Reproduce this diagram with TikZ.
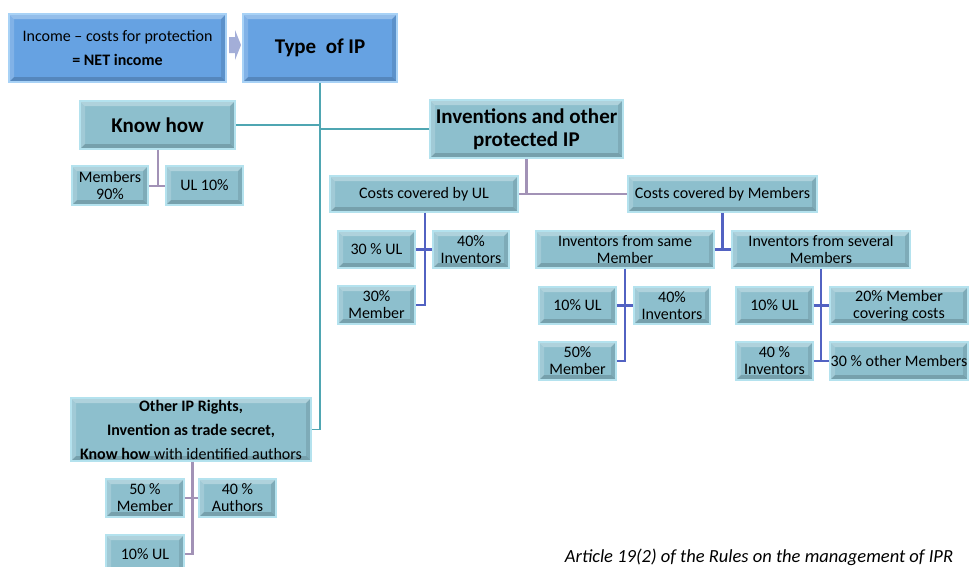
\documentclass[tikz,border=0pt]{standalone}
\usepackage{fontspec}
\setmainfont{Carlito}
\begin{document}
\begin{tikzpicture}[x=1pt,y=-1pt]
\definecolor{tealfill}{HTML}{8DBFCD}
\definecolor{tealedge}{HTML}{B4E2EE}
\definecolor{bluefill}{HTML}{66A2E2}
\definecolor{blueedge}{HTML}{A8D2F6}
\definecolor{tealline}{HTML}{4FA6B2}
\definecolor{purpline}{HTML}{A292B6}
\definecolor{blueline}{HTML}{5262C2}
\definecolor{arrowcol}{HTML}{A3AED8}
\tikzset{
  bevel/.style={path picture={
    \coordinate (pnw) at (path picture bounding box.north west);
    \coordinate (pne) at (path picture bounding box.north east);
    \coordinate (psw) at (path picture bounding box.south west);
    \coordinate (pse) at (path picture bounding box.south east);
    \fill[white,opacity=0.30] (pnw) -- (pne) -- ([shift={(-5pt,-5pt)}]pne) -- ([shift={(5pt,-5pt)}]pnw) -- cycle;
    \fill[white,opacity=0.18] (pnw) -- (psw) -- ([shift={(5pt,5pt)}]psw) -- ([shift={(5pt,-5pt)}]pnw) -- cycle;
    \fill[black,opacity=0.16] (psw) -- (pse) -- ([shift={(-5pt,5pt)}]pse) -- ([shift={(5pt,5pt)}]psw) -- cycle;
    \fill[black,opacity=0.10] (pne) -- (pse) -- ([shift={(-5pt,5pt)}]pse) -- ([shift={(-5pt,-5pt)}]pne) -- cycle;
  }},
  tbox/.style={rectangle, fill=tealfill, draw=tealedge, line width=1.5pt, bevel,
    inner sep=1pt, align=center, font=\fontsize{16}{17}\selectfont},
  bbox/.style={tbox, fill=bluefill, draw=blueedge},
  sz/.style 2 args={minimum width=#1, minimum height=#2},
  tl/.style={draw=tealline, line width=1.3pt},
  pl/.style={draw=purpline, line width=2.5pt},
  bl/.style={draw=blueline, line width=2.5pt},
}
\useasboundingbox (0,0) rectangle (969,566);
% top row
\node[bbox, sz={217pt}{68pt}, font=\fontsize{16}{24}\selectfont] (inc) at (117.5,48) {Income -- costs for protection\\\textbf{= NET income}};
\node[bbox, sz={154pt}{68pt}, font=\fontsize{21}{24}\selectfont\bfseries] (type) at (320,48) {Type\ \ of IP};
\fill[arrowcol] (229,37) -- (235,37) -- (235,30) -- (241,45) -- (235,60) -- (235,53) -- (229,53) -- cycle;
% level 2
\node[tbox, sz={155pt}{48pt}, font=\fontsize{21}{23}\selectfont\bfseries] (kh) at (157.5,125) {Know how};
\node[tbox, sz={193pt}{58pt}, font=\fontsize{21}{23}\selectfont\bfseries] (inv) at (526.5,129) {Inventions and other\\protected IP};
\node[tbox, sz={240pt}{63pt}, font=\fontsize{16}{24}\selectfont] (oth) at (191,429.5) {\textbf{Other IP Rights,}\\\textbf{Invention as trade secret,}\\\textbf{Know how} with identified authors};
\draw[tl] (type.south) -- (type.south |- oth.east) -- (oth.east);
\draw[tl] (kh.east) -- (kh.east -| type.south);
\draw[tl] (inv.west) -- (inv.west -| type.south);
% know how children
\node[tbox, sz={76pt}{39pt}] (m90) at (110,185.5) {Members\\90\%};
\node[tbox, sz={77pt}{39pt}] (ul10) at (204.5,185.5) {UL 10\%};
\coordinate (khj) at (158,186);
\draw[pl] (kh.south -| khj) -- (khj);
\draw[pl] (m90.east |- khj) -- (ul10.west |- khj);
% inventions children
\node[tbox, sz={188pt}{36pt}] (cul) at (424,194) {Costs covered by UL};
\node[tbox, sz={189pt}{36pt}] (cmem) at (722.5,194) {Costs covered by Members};
\draw[pl] (inv.south) -- (inv.south |- cul.east);
\draw[pl] (cul.east) -- (cmem.west);
% costs covered by UL children
\node[tbox, sz={77pt}{37pt}] (a30ul) at (376.5,249.5) {30 \% UL};
\node[tbox, sz={76pt}{37pt}] (a40inv) at (471,249.5) {40\%\\Inventors};
\node[tbox, sz={77pt}{38pt}] (a30mem) at (376.5,305) {30\%\\Member};
\coordinate (ca) at (425,212);
\draw[bl] (cul.south -| ca) -- (ca |- a30mem.east) -- (a30mem.east);
\draw[bl] (a30ul.east) -- (a40inv.west);
% costs covered by members children
\node[tbox, sz={178pt}{37pt}] (same) at (625,249.5) {Inventors from same\\Member};
\node[tbox, sz={178pt}{37pt}] (sev) at (821,249.5) {Inventors from several\\Members};
\draw[bl] (cmem.south) -- (cmem.south |- same.east);
\draw[bl] (same.east) -- (sev.west);
% same member children
\node[tbox, sz={77pt}{37pt}] (b10ul) at (577.5,305.5) {10\% UL};
\node[tbox, sz={76pt}{37pt}] (b40inv) at (672,305.5) {40\%\\Inventors};
\node[tbox, sz={77pt}{38pt}] (b50mem) at (577.5,361) {50\%\\Member};
\draw[bl] (same.south) -- (same.south |- b50mem.east) -- (b50mem.east);
\draw[bl] (b10ul.east) -- (b40inv.west);
% several members children
\node[tbox, sz={77pt}{37pt}] (c10ul) at (774.5,305.5) {10\% UL};
\node[tbox, sz={138pt}{37pt}] (c20mem) at (899,305.5) {20\% Member\\covering costs};
\node[tbox, sz={77pt}{38pt}] (c40inv) at (774.5,361) {40 \%\\Inventors};
\node[tbox, sz={138pt}{38pt}, inner sep=0pt] (c30oth) at (899,361) {30 \% other Members};
\draw[bl] (sev.south) -- (sev.south |- c30oth.west);
\draw[bl] (c10ul.east) -- (c20mem.west);
\draw[bl] (c40inv.east) -- (c30oth.west);
% other IP children
\node[tbox, sz={78pt}{38pt}] (d50mem) at (145,498) {50 \%\\Member};
\node[tbox, sz={77pt}{38pt}] (d40aut) at (237.5,498) {40 \%\\Authors};
\node[tbox, sz={78pt}{38pt}] (d10ul) at (145,554) {10\% UL};
\coordinate (dj) at (192.5,461);
\draw[pl] (oth.south -| dj) -- (dj |- d10ul.east) -- (d10ul.east);
\draw[pl] (d50mem.east) -- (d40aut.west);
% caption
\node[font=\fontsize{18.5}{20}\selectfont\itshape, inner sep=0pt] (cap) at (759,557) {Article 19(2) of the Rules on the management of IPR};
\end{tikzpicture}
\end{document}
